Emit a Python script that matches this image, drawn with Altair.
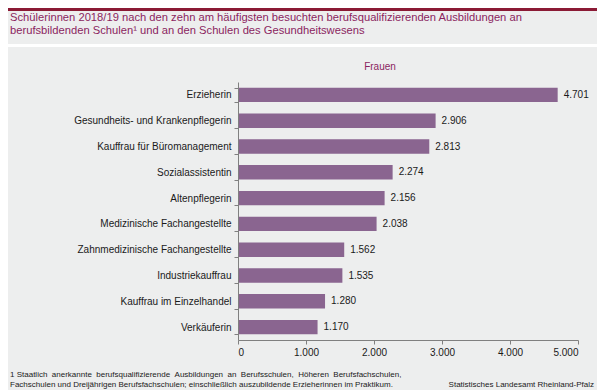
import altair as alt
import pandas as pd

categories = [
    "Erzieherin",
    "Gesundheits- und Krankenpflegerin",
    "Kauffrau für Büromanagement",
    "Sozialassistentin",
    "Altenpflegerin",
    "Medizinische Fachangestellte",
    "Zahnmedizinische Fachangestellte",
    "Industriekauffrau",
    "Kauffrau im Einzelhandel",
    "Verkäuferin",
]
values = [4701, 2906, 2813, 2274, 2156, 2038, 1562, 1535, 1280, 1170]
x_ticks = [0, 1000, 2000, 3000, 4000, 5000]
series_name = "Frauen"
title_lines = [
    "Schülerinnen 2018/19 nach den zehn am häufigsten besuchten berufsqualifizierenden Ausbildungen an",
    "berufsbildenden Schulen¹ und an den Schulen des Gesundheitswesens",
]
footnote_words_1 = ["1 Staatlich", "anerkannte", "berufsqualifizierende", "Ausbildungen", "an",
                    "Berufsschulen,", "Höheren", "Berufsfachschulen,"]
footnote_words_2 = ["Fachschulen", "und", "Dreijährigen", "Berufsfachschulen;", "einschließlich",
                    "auszubildende", "Erzieherinnen", "im", "Praktikum."]
source_text = "Statistisches Landesamt Rheinland-Pfalz"

footnote_lines = [
    " \u00a0".join(footnote_words_1),
    " ".join(footnote_words_2),
]

df = pd.DataFrame({"Ausbildung": categories, "Anzahl": values})

W, H = 340, 258
PL, PT, PR, PB = 230, 74, 19, 50

FONT = "Liberation Sans"
STRIPE = "#8B1A35"
TITLE_COLOR = "#8B1F5F"
BG = "#EDEEEE"
BAR = "#8A6590"
AXIS_GRAY = "#808080"

one = alt.Data(values=[{}])


def rect(x, x2, y, y2, color):
    return alt.Chart(one).mark_rect(color=color).encode(
        x=alt.value(x), x2=alt.value(x2), y=alt.value(y), y2=alt.value(y2)
    )


def text(t, x, y, size, color="#1a1a1a", align="left", baseline="alphabetic"):
    return alt.Chart(one).mark_text(
        text=t, font=FONT, fontSize=size, color=color, align=align, baseline=baseline
    ).encode(x=alt.value(x), y=alt.value(y))


bg_layers = [
    rect(-PL, W + PR, -PT, -PT + 3, STRIPE),
    rect(-PL, W + PR, -PT + 3, -38, BG),
    rect(-PL, W + PR, -35, H + PB, BG),
]

bars = alt.Chart(df).mark_bar(color=BAR).encode(
    y=alt.Y(
        "Ausbildung:N",
        sort=categories,
        scale=alt.Scale(paddingInner=0.44, paddingOuter=0.22),
        axis=alt.Axis(
            title=None,
            domainColor=AXIS_GRAY,
            tickColor=AXIS_GRAY,
            tickSize=4,
            tickBand="extent",
            labelFont=FONT,
            labelFontSize=10,
            labelColor="#1a1a1a",
            labelPadding=3,
            zindex=1,
        ),
    ),
    x=alt.X(
        "Anzahl:Q",
        scale=alt.Scale(domain=[0, 5000], nice=False),
        axis=alt.Axis(
            title=None,
            values=x_ticks,
            labelExpr="replace(format(datum.value, ','), ',', '.')",
            domainColor=AXIS_GRAY,
            tickColor=AXIS_GRAY,
            tickSize=4,
            grid=False,
            labelFont=FONT,
            labelFontSize=10,
            labelColor="#1a1a1a",
            labelPadding=3,
            zindex=1,
        ),
    ),
)

value_labels = alt.Chart(df).transform_calculate(
    label="replace(format(datum.Anzahl, ','), ',', '.')"
).mark_text(
    font=FONT, fontSize=10, color="#1a1a1a", align="left", baseline="middle", dx=6
).encode(
    y=alt.Y("Ausbildung:N", sort=categories),
    x="Anzahl:Q",
    text="label:N",
)

deco = [
    text(title_lines[0], -PL + 2, -61, 11.2, TITLE_COLOR),
    text(title_lines[1], -PL + 2, -48, 11.2, TITLE_COLOR),
    text(series_name, 142, -15, 10, TITLE_COLOR, align="center", baseline="middle"),
    text(footnote_lines[0], -PL + 2, 293, 8, baseline="middle"),
    text(footnote_lines[1], -PL + 2, 303, 8, baseline="middle"),
    text(source_text, W + PR - 3, 303, 8, align="right", baseline="middle"),
]

chart = alt.layer(*bg_layers, bars, value_labels, *deco).properties(
    width=W,
    height=H,
    padding={"left": PL, "top": PT, "right": PR, "bottom": PB},
    autosize="none",
    background="white",
).configure_view(stroke=None)

chart.save("out.html", embed_options={"renderer": "svg", "actions": False})
